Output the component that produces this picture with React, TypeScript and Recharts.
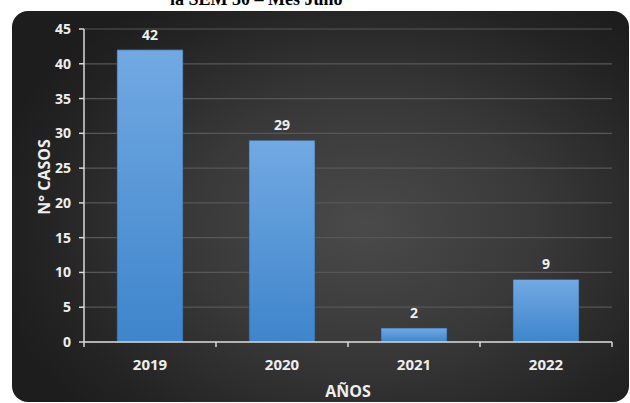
import { BarChart, Bar, XAxis, YAxis, CartesianGrid, LabelList, Label } from "recharts";

// datos
const years = ["2019", "2020", "2021", "2022"];
const cases = [42, 29, 2, 9];
const yTicks = [0, 5, 10, 15, 20, 25, 30, 35, 40, 45];

const data = years.map((year, i) => ({ year, casos: cases[i] }));

const AXIS = "#d9d9d9";
const FONT = "'Open Sans', sans-serif";

// tick del eje X: texto centrado + marcas en los bordes de cada categoría
function YearTick(props: any) {
  const { x, y, payload, index, visibleTicksCount } = props;
  const half = payload?.offset ?? 0;
  const axisY = y - 17;
  return (
    <g>
      {half > 0 && (
        <line x1={x - half} x2={x - half} y1={axisY} y2={axisY + 5} stroke={AXIS} strokeWidth={1.5} />
      )}
      {half > 0 && index === visibleTicksCount - 1 && (
        <line x1={x + half} x2={x + half} y1={axisY} y2={axisY + 5} stroke={AXIS} strokeWidth={1.5} />
      )}
      <text
        x={x}
        y={y}
        dy="0.71em"
        textAnchor="middle"
        fill="#eeeeee"
        fontSize={15}
        fontWeight={700}
        fontFamily={FONT}
      >
        {payload.value}
      </text>
    </g>
  );
}

export default function App() {
  return (
    <div
      style={{
        position: "absolute",
        left: 0,
        top: 0,
        width: 630,
        height: 403,
        overflow: "hidden",
        background: "#fff",
        fontFamily: FONT,
      }}
    >
      {/* título cortado arriba */}
      <div
        style={{
          position: "absolute",
          left: 170,
          top: -10,
          fontFamily: "'Liberation Serif', serif",
          fontWeight: "bold",
          fontSize: 18,
          lineHeight: "18px",
          color: "#000",
          whiteSpace: "nowrap",
        }}
      >
        la SEM 30 – Mes Julio
      </div>

      {/* panel oscuro */}
      <div
        style={{
          position: "absolute",
          left: 12,
          top: 11,
          width: 617,
          height: 391,
          borderRadius: 16,
          background:
            "radial-gradient(ellipse 62% 70% at 57% 55%, #4a4a4a 0%, #393939 45%, #232323 85%, #1d1d1d 100%)",
        }}
      />

      <div style={{ position: "absolute", left: 0, top: 0 }}>
        <BarChart
          width={630}
          height={403}
          data={data}
          margin={{ top: 29, right: 18, bottom: 0, left: 0 }}
          barCategoryGap="25%"
        >
          <defs>
            <linearGradient id="barFill" x1="0" y1="0" x2="0" y2="1">
              <stop offset="0%" stopColor="#72a9e3" />
              <stop offset="100%" stopColor="#3e85cb" />
            </linearGradient>
          </defs>
          <CartesianGrid vertical={false} stroke="#575757" strokeWidth={1.2} />
          <XAxis
            dataKey="year"
            height={61}
            interval={0}
            axisLine={{ stroke: AXIS, strokeWidth: 1.5 }}
            tickLine={false}
            tickSize={0}
            tickMargin={17}
            tick={<YearTick />}
          >
            <Label
              value="AÑOS"
              position="insideBottom"
              offset={6}
              fill="#eeeeee"
              fontSize={16}
              fontWeight={700}
              fontFamily={FONT}
            />
          </XAxis>
          <YAxis
            width={84}
            domain={[0, 45]}
            ticks={yTicks}
            interval={0}
            axisLine={{ stroke: AXIS, strokeWidth: 1.5 }}
            tickLine={{ stroke: AXIS, strokeWidth: 1.5 }}
            tickSize={5}
            tickMargin={8}
            tick={{ fill: "#eeeeee", fontSize: 14, fontWeight: 700, fontFamily: FONT }}
          >
            <Label
              content={() => (
                <text
                  x={44}
                  y={177}
                  transform="rotate(-90 44 177)"
                  textAnchor="middle"
                  dominantBaseline="central"
                  fill="#eeeeee"
                  fontSize={16}
                  fontWeight={700}
                  fontFamily={FONT}
                >
                  N° CASOS
                </text>
              )}
            />
          </YAxis>
          <Bar
            dataKey="casos"
            fill="url(#barFill)"
            stroke="#2b4f74"
            strokeOpacity={0.6}
            isAnimationActive={false}
          >
            <LabelList
              dataKey="casos"
              position="top"
              offset={10}
              fill="#eeeeee"
              fontSize={14}
              fontWeight={700}
              fontFamily={FONT}
            />
          </Bar>
        </BarChart>
      </div>
    </div>
  );
}
